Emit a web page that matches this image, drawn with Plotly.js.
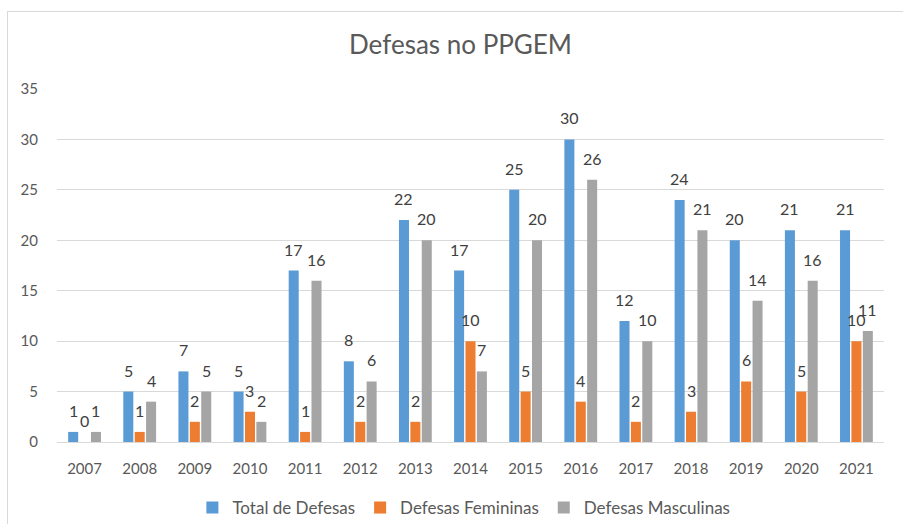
<!DOCTYPE html>
<html>
<head>
<meta charset="utf-8">
<script src="https://cdn.plot.ly/plotly-3.0.1.min.js"></script>
<style>
html,body{margin:0;padding:0;background:#fff;}
#frame{position:absolute;left:7px;top:11px;width:896px;height:513px;border-top:1px solid #d9d9d9;border-left:1px solid #d9d9d9;box-sizing:border-box;}
#chart{position:absolute;left:0;top:0;width:903px;height:524px;}
</style>
</head>
<body>
<div id="frame"></div>
<div id="chart"></div>
<script>
var years = ['2007','2008','2009','2010','2011','2012','2013','2014','2015','2016','2017','2018','2019','2020','2021'];
var totalDefesas = [1,5,7,5,17,8,22,17,25,30,12,24,20,21,21];
var defesasFemininas = [0,1,2,3,1,2,2,10,5,4,2,3,6,5,10];
var defesasMasculinas = [1,4,5,2,16,6,20,7,20,26,10,21,14,16,11];
var seriesNames = ['Total de Defesas','Defesas Femininas','Defesas Masculinas'];
var colors = ['#5B9BD5','#ED7D31','#A5A5A5'];
var allSeries = [totalDefesas, defesasFemininas, defesasMasculinas];

var fontFam = 'Lato, "Open Sans", sans-serif';
var W = 903, H = 524, ML = 57, MR = 19, MT = 89, MB = 82;
var BARGAP = 0.38;

function mk(vals, i){
  return {
    type:'bar', x:years, y:vals, name:seriesNames[i],
    marker:{color:colors[i]},
    hoverinfo:'x+y+name'
  };
}
var data = allSeries.map(mk);

// value labels above each bar, positioned via the axis scale (category index)
var slot = ((W - ML - MR) / years.length) * (1 - BARGAP) / allSeries.length;
var annotations = [];
allSeries.forEach(function(vals, i){
  vals.forEach(function(v, j){
    annotations.push({
      x: j, y: v, xref:'x', yref:'y', text: String(v), showarrow:false,
      xshift: (i - 1) * slot, yanchor:'bottom', yshift: 10,
      font:{family:fontFam, size:16, color:'#404040'}
    });
  });
});

var layout = {
  width:W, height:H,
  paper_bgcolor:'rgba(0,0,0,0)', plot_bgcolor:'rgba(0,0,0,0)',
  margin:{l:ML, r:MR, t:MT, b:MB, autoexpand:false},
  title:{text:'Defesas no PPGEM', x:0.51, xanchor:'center', y:0.915, yanchor:'middle',
         font:{family:fontFam, size:26, color:'#595959'}},
  bargap:BARGAP, bargroupgap:0.12, barmode:'group',
  xaxis:{type:'category', range:[-0.5, years.length - 0.5], showgrid:false, showline:true, linecolor:'#d9d9d9', linewidth:1,
         ticks:'', ticklabelstandoff:13, tickfont:{family:fontFam, size:15, color:'#595959'}},
  yaxis:{range:[0,35], dtick:5, showgrid:true, gridcolor:'#d9d9d9', gridwidth:1, zeroline:false,
         showline:false, ticks:'', ticklabelstandoff:18, tickfont:{family:fontFam, size:15, color:'#595959'}},
  showlegend:true,
  legend:{orientation:'h', x:0.492, xanchor:'center', y:-0.187, yanchor:'middle',
          font:{family:fontFam, size:17, color:'#595959'}, itemwidth:30, traceorder:'normal'},
  annotations: annotations,
  font:{family:fontFam}
};
Plotly.newPlot('chart', data, layout, {displayModeBar:false, staticPlot:true});
</script>
</body>
</html>
